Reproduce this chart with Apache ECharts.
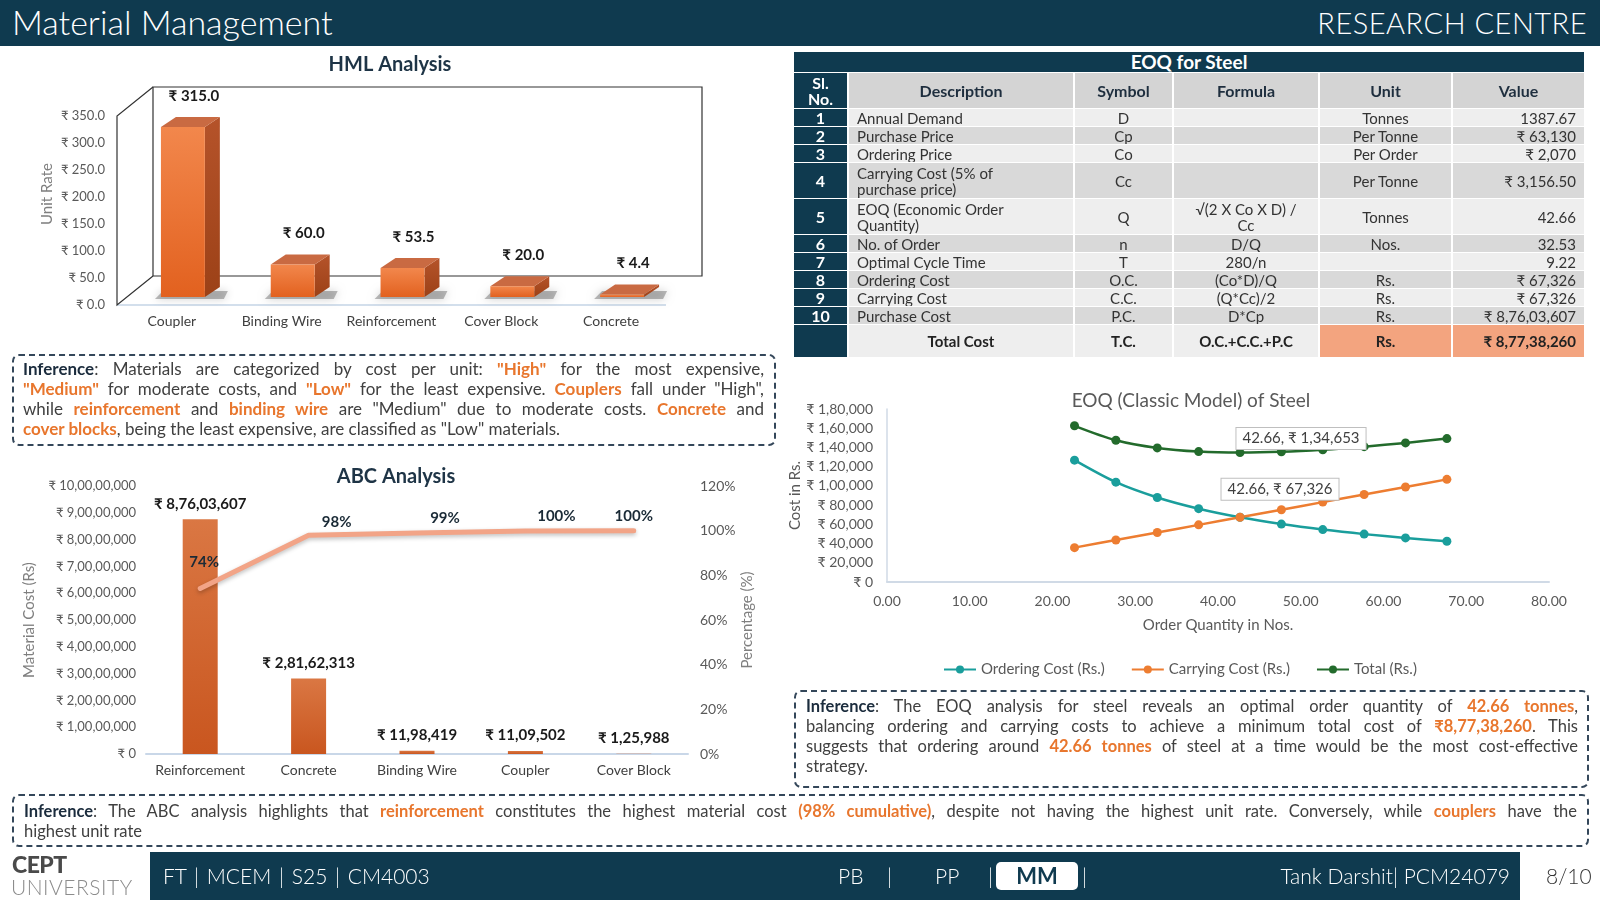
<!DOCTYPE html>
<html>
<head>
<meta charset="utf-8">
<script src="https://cdn.jsdelivr.net/npm/echarts@6/dist/echarts.min.js"></script>
<style>
  html, body { margin:0; padding:0; }
  body { width:1600px; height:900px; position:relative; overflow:hidden; background:#fff; font-family: Lato, 'DejaVu Sans', sans-serif; }
  #chart { position:absolute; left:0; top:0; width:1600px; height:900px; }
  .abs { position:absolute; }
  #header { left:0; top:0; width:1600px; height:46px; background:#0f3a4f; }
  #header .t1 { position:absolute; left:12px; top:2px; font-size:34px; font-weight:300; color:#fff; line-height:40px; }
  #header .t2 { position:absolute; right:13px; top:3px; font-size:29px; font-weight:300; color:#fff; line-height:40px; letter-spacing:0.5px; }
  .box { position:absolute; border:2px dashed #34475a; border-radius:7px; box-sizing:border-box; color:#404040; line-height:20px; }
  .box .ln { white-space:nowrap; }
  .box .j { text-align:justify; text-align-last:justify; white-space:normal; }
  .box b.k { color:#1b2c3d; }
  .box .o { color:#e8762d; font-weight:bold; }
  #eoq { position:absolute; left:792px; top:51px; border-collapse:separate; border-spacing:2px 1px; table-layout:fixed; font-size:15px; color:#333; }
  #eoq td { padding:0 8px; line-height:16px; height:17px; white-space:nowrap; overflow:hidden; }
  #eoq tr.ttl td { background:#0f3a4f; color:#fff; font-weight:bold; font-size:19px; text-align:center; height:20px; line-height:20px; }
  #eoq tr.hd td { background:#d4d4d4; font-weight:bold; font-size:16px; color:#1e2e3e; text-align:center; height:35px; }
  #eoq td.sl { background:#0f3a4f !important; color:#fff !important; font-weight:bold; text-align:center; font-size:16px; padding:0; }
  #eoq tr.r1 td { background:#eeeeee; }
  #eoq tr.r2 td { background:#d9d9d9; }
  #eoq tr.dbl td { height:35px; }
  #eoq td.c { text-align:center; }
  #eoq td.v { text-align:right; }
  #eoq tr.tot td { background:#eeeeee; font-weight:bold; height:32px; color:#222; }
  #eoq tr.tot td.s { background:#f3a47f; }
  #footer { left:150px; top:852px; width:1370px; height:48px; background:#0f3a4f; color:#fff; }
  #footer span { position:absolute; top:0; line-height:48px; font-size:21px; font-weight:300; }
</style>
</head>
<body>
<div id="chart"></div>

<div id="header" class="abs"><div class="t1">Material Management</div><div class="t2">RESEARCH CENTRE</div></div>

<table id="eoq"><colgroup><col style="width:53px"><col style="width:224px"><col style="width:97px"><col style="width:144px"><col style="width:131px"><col style="width:131px"></colgroup><tbody id="eoqBody"></tbody></table>

<div class="box" style="left:12px;top:354px;width:764px;height:92px;padding:3px 10px 0 9px;font-size:17px;">
  <div class="ln j"><b class="k">Inference</b>: Materials are categorized by cost per unit: <span class="o">"High"</span> for the most expensive,</div>
  <div class="ln j"><span class="o">"Medium"</span> for moderate costs, and <span class="o">"Low"</span> for the least expensive. <span class="o">Couplers</span> fall under "High",</div>
  <div class="ln j">while <span class="o">reinforcement</span> and <span class="o">binding wire</span> are "Medium" due to moderate costs. <span class="o">Concrete</span> and</div>
  <div class="ln"><span class="o">cover blocks</span>, being the least expensive, are classified as "Low" materials.</div>
</div>

<div class="box" style="left:794px;top:690px;width:795px;height:98px;padding:4px 9px 0 10px;font-size:16.5px;">
  <div class="ln j"><b class="k">Inference</b>: The EOQ analysis for steel reveals an optimal order quantity of <span class="o">42.66 tonnes</span>,</div>
  <div class="ln j">balancing ordering and carrying costs to achieve a minimum total cost of <span class="o">₹8,77,38,260</span>. This</div>
  <div class="ln j">suggests that ordering around <span class="o">42.66 tonnes</span> of steel at a time would be the most cost-effective</div>
  <div class="ln">strategy.</div>
</div>

<div class="box" style="left:12px;top:794px;width:1577px;height:53px;padding:5px 10px 0 10px;font-size:16.5px;">
  <div class="ln j"><b class="k">Inference</b>: The ABC analysis highlights that <span class="o">reinforcement</span> constitutes the highest material cost <span class="o">(98% cumulative)</span>, despite not having the highest unit rate. Conversely, while <span class="o">couplers</span> have the</div>
  <div class="ln">highest unit rate</div>
</div>

<div class="abs" style="left:12px;top:851px;font-size:23px;font-weight:900;color:#4a4a4a;line-height:26px;letter-spacing:-0.5px;">CEPT</div>
<div class="abs" style="left:11px;top:875px;font-size:21px;font-weight:300;color:#8c8c8c;line-height:24px;letter-spacing:0.5px;">UNIVERSITY</div>

<div id="footer" class="abs">
  <span style="left:13px;word-spacing:2px;">FT | MCEM | S25 | CM4003</span>
  <span style="left:688px;">PB</span>
  <span style="left:737px;">|</span>
  <span style="left:785px;">PP</span>
  <span style="left:838px;">|</span>
  <div style="position:absolute;left:846px;top:10px;width:82px;height:28px;background:#fff;border-radius:5px;color:#0f3a4f;font-weight:bold;font-size:22px;line-height:28px;text-align:center;">MM</div>
  <span style="left:932px;">|</span>
  <span style="right:10px;">Tank Darshit| PCM24079</span>
</div>
<div class="abs" style="left:1546px;top:852px;line-height:48px;font-size:21px;font-weight:300;color:#333;">8/10</div>

<script>
// ---------- DATA ----------
const hmlCategories = ['Coupler', 'Binding Wire', 'Reinforcement', 'Cover Block', 'Concrete'];
const hmlUnitRates = [315.0, 60.0, 53.5, 20.0, 4.4];

const abcCategories = ['Reinforcement', 'Concrete', 'Binding Wire', 'Coupler', 'Cover Block'];
const abcMaterialCost = [87603607, 28162313, 1198419, 1109502, 125988];
const abcCumulativePct = [0.741, 0.979, 0.990, 0.999, 1.000];

const eoqOrderQty = [22.66, 27.66, 32.66, 37.66, 42.66, 47.66, 52.66, 57.66, 62.66, 67.66];
const eoqOrderingCost = [126764, 103850, 87951, 76274, 67326, 60270, 54547, 49817, 45842, 42455];
const eoqCarryingCost = [35763, 43654, 51546, 59437, 67326, 75219, 83111, 91002, 98893, 106785];
const eoqTotalCost = [162527, 147504, 139497, 135711, 134653, 135489, 137658, 140819, 144735, 149240];

const eoqTableHeader = ['Sl.<br>No.', 'Description', 'Symbol', 'Formula', 'Unit', 'Value'];
const eoqTableRows = [
  ['1', 'Annual Demand', 'D', '', 'Tonnes', '1387.67'],
  ['2', 'Purchase Price', 'Cp', '', 'Per Tonne', '₹ 63,130'],
  ['3', 'Ordering Price', 'Co', '', 'Per Order', '₹ 2,070'],
  ['4', 'Carrying Cost (5% of<br>purchase price)', 'Cc', '', 'Per Tonne', '₹ 3,156.50'],
  ['5', 'EOQ (Economic Order<br>Quantity)', 'Q', '√(2 X Co X D) /<br>Cc', 'Tonnes', '42.66'],
  ['6', 'No. of Order', 'n', 'D/Q', 'Nos.', '32.53'],
  ['7', 'Optimal Cycle Time', 'T', '280/n', '', '9.22'],
  ['8', 'Ordering Cost', 'O.C.', '(Co*D)/Q', 'Rs.', '₹ 67,326'],
  ['9', 'Carrying Cost', 'C.C.', '(Q*Cc)/2', 'Rs.', '₹ 67,326'],
  ['10', 'Purchase Cost', 'P.C.', 'D*Cp', 'Rs.', '₹ 8,76,03,607']
];
const eoqTableTotal = ['', 'Total Cost', 'T.C.', 'O.C.+C.C.+P.C', 'Rs.', '₹ 8,77,38,260'];

// ---------- TABLE ----------
(function () {
  let h = '<tr class="ttl"><td colspan="6">EOQ for Steel</td></tr>';
  h += '<tr class="hd">' + eoqTableHeader.map((t, i) => '<td' + (i === 0 ? ' class="sl"' : '') + '>' + t + '</td>').join('') + '</tr>';
  eoqTableRows.forEach((r, k) => {
    const dbl = r[1].indexOf('<br>') >= 0;
    h += '<tr class="' + (k % 2 === 0 ? 'r1' : 'r2') + (dbl ? ' dbl' : '') + '">' +
      '<td class="sl">' + r[0] + '</td><td>' + r[1] + '</td><td class="c">' + r[2] + '</td><td class="c">' + r[3] +
      '</td><td class="c">' + r[4] + '</td><td class="v">' + r[5] + '</td></tr>';
  });
  const t = eoqTableTotal;
  h += '<tr class="tot"><td class="sl">' + t[0] + '</td><td class="c">' + t[1] + '</td><td class="c">' + t[2] + '</td><td class="c">' + t[3] +
    '</td><td class="c s">' + t[4] + '</td><td class="v s">' + t[5] + '</td></tr>';
  document.getElementById('eoqBody').innerHTML = h;
})();

// ---------- HELPERS ----------
function inr(n) {
  const s = Math.round(n).toString();
  if (s.length <= 3) return s;
  const last3 = s.slice(-3);
  const rest = s.slice(0, -3).replace(/\B(?=(\d{2})+(?!\d))/g, ',');
  return rest + ',' + last3;
}
const FONT = "Lato, 'DejaVu Sans', sans-serif";

// ---------- CHART ----------
const chart = echarts.init(document.getElementById('chart'), null, { renderer: 'canvas' });

function renderBox3D(params, api) {
  const i = api.value(0), v = api.value(1);
  const p0 = api.coord([i, 0]), p1 = api.coord([i, v]);
  const band = api.size([1, 0])[0];
  const w = band * 0.4, dx = 11, sy = -8, ddx = 15, ddy = -10;
  const xl = p0[0] + dx - w / 2, xr = xl + w, yb = p0[1] + sy, yt = p1[1] + sy;
  const children = [];
  if (params.dataIndex === 0) {
    const cs = params.coordSys;
    const X = cs.x, Y = cs.y, W = cs.width, H = cs.height, ox = 36, oy = -29;
    children.push({ type: 'line', shape: { x1: X, y1: Y + H, x2: X + W, y2: Y + H }, style: { stroke: '#d3dfec', lineWidth: 2 } });
    children.push({ type: 'rect', shape: { x: X + ox, y: Y + oy, width: W, height: H }, style: { fill: 'none', stroke: '#333', lineWidth: 1.2 } });
    children.push({ type: 'polyline', shape: { points: [[X + ox, Y + oy], [X, Y], [X, Y + H], [X + ox, Y + H + oy]] }, style: { fill: 'none', stroke: '#333', lineWidth: 1.2 } });
  }
  children.push({ type: 'polygon', shape: { points: [[xl - 6, yb + 2], [xr + ddx + 4, yb + 2], [xr + ddx + 8, yb + ddy + 4], [xl + 2, yb + ddy + 4]] },
    style: { fill: 'rgba(60,60,60,0.35)', shadowBlur: 8, shadowColor: 'rgba(0,0,0,0.55)' } });
  children.push({ type: 'polygon', shape: { points: [[xr, yt], [xr + ddx, yt + ddy], [xr + ddx, yb + ddy], [xr, yb]] },
    style: { fill: new echarts.graphic.LinearGradient(0, 0, 0, 1, [{ offset: 0, color: '#b5532a' }, { offset: 1, color: '#9c4117' }]) } });
  children.push({ type: 'polygon', shape: { points: [[xl, yt], [xr, yt], [xr + ddx, yt + ddy], [xl + ddx, yt + ddy]] },
    style: { fill: '#c96a42' } });
  children.push({ type: 'rect', shape: { x: xl, y: yt, width: w, height: yb - yt },
    style: { fill: new echarts.graphic.LinearGradient(0, 0, 0, 1, [{ offset: 0, color: '#f2874c' }, { offset: 1, color: '#e2611f' }]) } });
  children.push({ type: 'text', style: { text: '₹ ' + v.toFixed(1), x: p0[0] + 22, y: p1[1] - 39, align: 'center', verticalAlign: 'middle',
    font: 'bold 15px ' + FONT, fill: '#1a1a1a' } });
  return { type: 'group', children };
}

const abcLabelOffsets = [[4, -13], [28, 0], [28, -1], [31, -1], [0, -1]];
const axisLabelStyle = { color: '#595959', fontSize: 13, fontFamily: FONT };
const catLabelStyle = { color: '#404040', fontSize: 14, fontFamily: FONT, interval: 0 };

const option = {
  animation: false,
  textStyle: { fontFamily: FONT },
  title: [
    { text: 'HML Analysis', left: 385, top: 50, textAlign: 'center', textStyle: { fontSize: 20, fontWeight: 'bold', color: '#1e3446', fontFamily: FONT } },
    { text: 'ABC Analysis', left: 391, top: 462, textAlign: 'center', textStyle: { fontSize: 20, fontWeight: 'bold', color: '#1e3446', fontFamily: FONT } },
    { text: 'EOQ (Classic Model) of Steel', left: 1186, top: 386, textAlign: 'center', textStyle: { fontSize: 19, fontWeight: 'normal', color: '#595959', fontFamily: FONT } }
  ],
  legend: {
    left: 938, top: 657, itemWidth: 32, itemHeight: 10, itemGap: 26,
    textStyle: { fontSize: 15, color: '#595959', fontFamily: FONT },
    data: ['Ordering Cost (Rs.)', 'Carrying Cost (Rs.)', 'Total (Rs.)']
  },
  graphic: [
    { type: 'text', x: 47, y: 194, rotation: Math.PI / 2, style: { text: 'Unit Rate', align: 'center', verticalAlign: 'middle', font: '15px ' + FONT, fill: '#7f7f7f' } }
  ],
  grid: [
    { left: 117, top: 116, width: 549, height: 189 },
    { left: 146, top: 486, width: 542, height: 268 },
    { left: 887, top: 409, width: 662, height: 173 }
  ],
  xAxis: [
    { gridIndex: 0, type: 'category', data: hmlCategories, axisLine: { show: false }, axisTick: { show: false }, axisLabel: Object.assign({ margin: 9 }, catLabelStyle) },
    { gridIndex: 1, type: 'category', data: abcCategories, axisLine: { show: true, lineStyle: { color: '#c9d7e8', width: 2 } }, axisTick: { show: false }, axisLabel: Object.assign({ margin: 9 }, catLabelStyle) },
    { gridIndex: 2, type: 'value', min: 0, max: 80, interval: 10, axisLine: { show: true, lineStyle: { color: '#d0dae6', width: 2 } }, axisTick: { show: false }, splitLine: { show: false },
      axisLabel: Object.assign({ margin: 12, formatter: v => v.toFixed(2) }, axisLabelStyle, { fontSize: 14 }),
      name: 'Order Quantity in Nos.', nameLocation: 'middle', nameGap: 36, nameTextStyle: { fontSize: 15, color: '#595959', fontFamily: FONT } }
  ],
  yAxis: [
    { gridIndex: 0, type: 'value', min: 0, max: 350, interval: 50, axisLine: { show: false }, axisTick: { show: false }, splitLine: { show: false },
      axisLabel: Object.assign({ margin: 12, formatter: v => '₹ ' + v.toFixed(1) }, axisLabelStyle) },
    { gridIndex: 1, type: 'value', min: 0, max: 100000000, interval: 10000000, axisLine: { show: false }, axisTick: { show: false }, splitLine: { show: false },
      axisLabel: Object.assign({ margin: 10, formatter: v => '₹ ' + inr(v) }, axisLabelStyle),
      name: 'Material Cost (Rs)', nameLocation: 'middle', nameGap: 109, nameTextStyle: { fontSize: 15, color: '#7f7f7f', fontFamily: FONT } },
    { gridIndex: 1, type: 'value', position: 'right', min: 0, max: 1.2, interval: 0.2, axisLine: { show: false }, axisTick: { show: false }, splitLine: { show: false },
      axisLabel: Object.assign({ margin: 12, formatter: v => Math.round(v * 100) + '%' }, axisLabelStyle, { fontSize: 14 }),
      name: 'Percentage (%)', nameLocation: 'middle', nameGap: 51, nameTextStyle: { fontSize: 15, color: '#7f7f7f', fontFamily: FONT } },
    { gridIndex: 2, type: 'value', min: 0, max: 180000, interval: 20000, axisLine: { show: true, lineStyle: { color: '#d0dae6', width: 1.5 } }, axisTick: { show: false }, splitLine: { show: false },
      axisLabel: Object.assign({ margin: 14, formatter: v => '₹ ' + inr(v) }, axisLabelStyle, { fontSize: 14 }),
      name: 'Cost in Rs.', nameLocation: 'middle', nameGap: 80, nameTextStyle: { fontSize: 15, color: '#595959', fontFamily: FONT } }
  ],
  series: [
    {
      name: 'Unit Rate', type: 'custom', xAxisIndex: 0, yAxisIndex: 0,
      renderItem: renderBox3D,
      data: hmlUnitRates.map((v, i) => [i, v])
    },
    {
      name: 'Material Cost', type: 'bar', xAxisIndex: 1, yAxisIndex: 1, barWidth: 35,
      itemStyle: { color: new echarts.graphic.LinearGradient(0, 0, 0, 1, [{ offset: 0, color: '#da7743' }, { offset: 1, color: '#c9561f' }]) },
      label: { show: true, position: 'top', distance: 8, formatter: p => '₹ ' + inr(p.value), fontSize: 15, fontWeight: 'bold', color: '#1a1a1a', fontFamily: FONT },
      data: abcMaterialCost
    },
    {
      name: 'Cumulative %', type: 'line', xAxisIndex: 1, yAxisIndex: 2, symbol: 'circle', symbolSize: 2,
      lineStyle: { color: '#f2a487', width: 5, cap: 'round', shadowColor: 'rgba(0,0,0,0.25)', shadowBlur: 4, shadowOffsetY: 2 },
      itemStyle: { color: '#f2a487' },
      data: abcCumulativePct.map((v, i) => ({
        value: v,
        label: { show: true, position: 'top', offset: abcLabelOffsets[i], formatter: p => Math.round(p.value * 100) + '%', fontSize: 15, fontWeight: 'bold', color: '#1a2a36', fontFamily: FONT }
      }))
    },
    {
      name: 'Ordering Cost (Rs.)', type: 'line', xAxisIndex: 2, yAxisIndex: 3, smooth: 0.3, symbol: 'circle', symbolSize: 9,
      lineStyle: { color: '#1a9e9c', width: 2.5 }, itemStyle: { color: '#1a9e9c' },
      data: eoqOrderQty.map((q, i) => [q, eoqOrderingCost[i]])
    },
    {
      name: 'Carrying Cost (Rs.)', type: 'line', xAxisIndex: 2, yAxisIndex: 3, smooth: 0.3, symbol: 'circle', symbolSize: 9,
      lineStyle: { color: '#ed7d31', width: 2.5 }, itemStyle: { color: '#ed7d31' },
      data: eoqOrderQty.map((q, i) => i === 4 ? {
        value: [q, eoqCarryingCost[i]],
        label: { show: true, position: 'top', offset: [40, -8], formatter: p => p.value[0].toFixed(2) + ', ₹ ' + inr(p.value[1]),
          backgroundColor: '#fff', borderColor: '#bfbfbf', borderWidth: 1, padding: [3, 6], fontSize: 15, color: '#404040', fontFamily: FONT }
      } : [q, eoqCarryingCost[i]])
    },
    {
      name: 'Total (Rs.)', type: 'line', xAxisIndex: 2, yAxisIndex: 3, smooth: 0.3, symbol: 'circle', symbolSize: 9,
      lineStyle: { color: '#236b2c', width: 2.5 }, itemStyle: { color: '#236b2c' },
      data: eoqOrderQty.map((q, i) => i === 4 ? {
        value: [q, eoqTotalCost[i]],
        label: { show: true, position: 'top', offset: [61, 6], formatter: p => p.value[0].toFixed(2) + ', ₹ ' + inr(p.value[1]),
          backgroundColor: '#fff', borderColor: '#bfbfbf', borderWidth: 1, padding: [3, 6], fontSize: 15, color: '#404040', fontFamily: FONT }
      } : [q, eoqTotalCost[i]])
    }
  ]
};
chart.setOption(option);
</script>
</body>
</html>
